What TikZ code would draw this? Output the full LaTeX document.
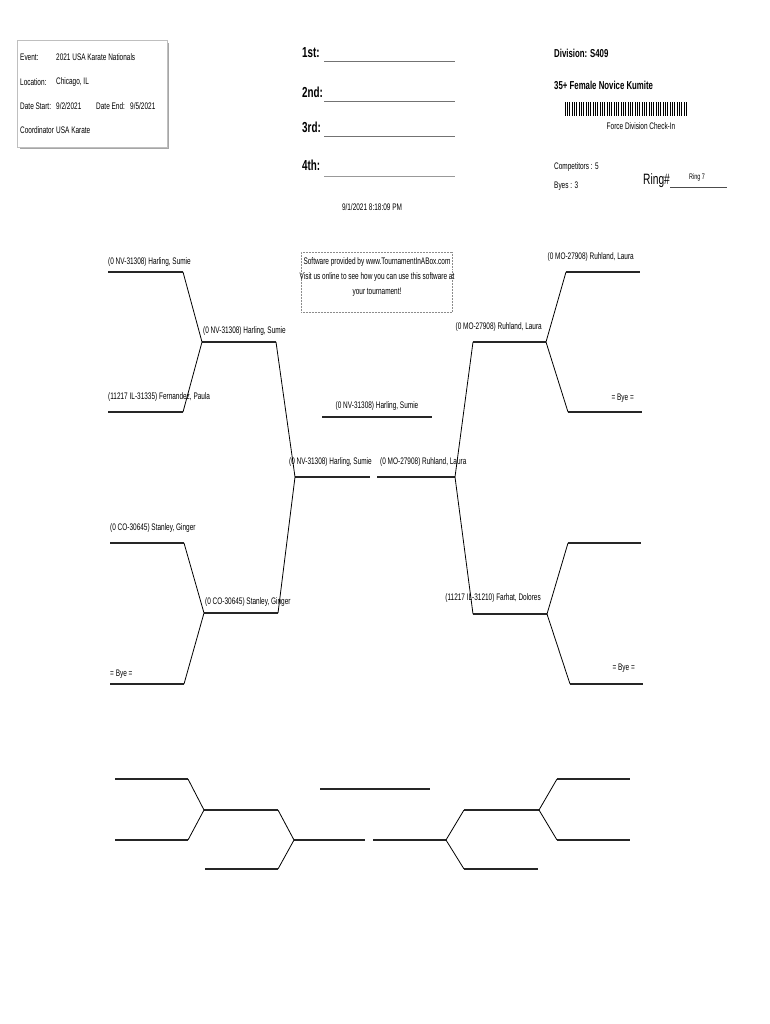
\documentclass[tikz,border=0pt]{standalone}
\usepackage{fontspec}
\setmainfont[FakeStretch=0.68]{Liberation Sans}
\begin{document}
\begin{tikzpicture}[x=1pt,y=-1pt,
  lbl/.style={font=\fontsize{9.5}{10}\selectfont, inner sep=0pt, anchor=west},
  lble/.style={lbl, anchor=east},
  big/.style={font=\fontsize{14.5}{16}\selectfont\bfseries, inner sep=0pt, anchor=west},
  head/.style={font=\fontsize{11.5}{13}\selectfont\bfseries, inner sep=0pt, anchor=west},
  hl/.style={line width=1.8pt, draw=black!85},
  dl/.style={line width=0.8pt, draw=black},
  blank/.style={line width=0.9pt, draw=black!55}]
\useasboundingbox (0,0) rectangle (770,1024);

% ---------- info box ----------
\fill[black!35] (20,43) rectangle (169,149.5);
\draw[fill=white, draw=black!25, line width=0.5pt] (17,40) rectangle (167,147);
\node[lbl] (ev) at (20,57) {Event:};
\node[lbl] (evv) at (56,57) {2021 USA Karate Nationals};
\node[lbl] (lo) at (20,82) {Location:};
\node[lbl] (lov) at (56,82) {Chicago, IL};
\node[lbl] (ds) at (20,106) {Date Start:};
\node[lbl] (dsv) at (56,106) {9/2/2021};
\node[lbl] (de) at (96,106) {Date End:};
\node[lbl] (dev) at (130,106) {9/5/2021};
\node[lbl] (co) at (20,130) {Coordinator};
\node[lbl] (cov) at (56,130) {USA Karate};

% ---------- places ----------
\node[big] (p1) at (302,53) {1st:};
\node[big] (p2) at (302,92) {2nd:};
\node[big] (p3) at (302,127) {3rd:};
\node[big] (p4) at (302,165) {4th:};
\coordinate (p1a) at (324,61); \coordinate (p1b) at (455,61);
\coordinate (p2a) at (324,101); \coordinate (p2b) at (455,101);
\coordinate (p3a) at (324,136); \coordinate (p3b) at (455,136);
\coordinate (p4a) at (324,176); \coordinate (p4b) at (455,176);
\draw[blank] (p1a) -- (p1b);
\draw[blank] (p2a) -- (p2b);
\draw[blank] (p3a) -- (p3b);
\draw[blank, draw=black!40, line width=0.7pt] (p4a) -- (p4b);
\node[lbl, anchor=center] (ts) at (372,207) {9/1/2021 8:18:09 PM};

% ---------- division ----------
\node[head] (div) at (554,53) {Division: S409};
\node[head] (cat) at (554,85) {35+ Female Novice Kumite};
\foreach \i in {0,...,121}{
  \pgfmathtruncatemacro\b{mod(\i*\i+3*\i,7)<4 ? 1 : 0}
  \ifnum\b=1 \fill[black] (565+\i,102) rectangle ++(1,14);\fi
}
\node[lbl, anchor=center] (fd) at (641,126) {Force Division Check-In};
\node[lbl] (cp) at (554,167) {Competitors : 5};
\node[lbl] (by) at (554,186) {Byes : 3};
\node[font=\fontsize{15}{17}\selectfont, inner sep=0pt, anchor=west] (ring) at (643,181) {Ring\#};
\coordinate (rl) at (727,187);
\draw[line width=0.6pt, black!70] (ring.south east |- rl) -- (rl);
\node[font=\fontsize{8}{9}\selectfont, inner sep=0pt] (r7) at (697,177) {Ring 7};

% ---------- software box ----------
\node[draw=black!45, densely dotted, line width=0.5pt, minimum width=151pt, minimum height=60pt, inner sep=0pt] (sw) at (376.5,282) {};
\node[lbl, anchor=center] (sw1) at (377,262) {Software provided by www.TournamentInABox.com};
\node[lbl, anchor=center] (sw2) at (377,277) {Visit us online to see how you can use this software at};
\node[lbl, anchor=center] (sw3) at (377,292) {your tournament!};

% ---------- main bracket: coordinates ----------
% upper left
\coordinate (a1) at (108,272); \coordinate (a2) at (183,272);
\coordinate (b1) at (108,412); \coordinate (b2) at (183,412);
\coordinate (c1) at (202,342); \coordinate (c2) at (276,342);
% lower left
\coordinate (d1) at (110,543); \coordinate (d2) at (184,543);
\coordinate (e1) at (110,684); \coordinate (e2) at (184,684);
\coordinate (f1) at (204,613); \coordinate (f2) at (278,613);
% semis
\coordinate (s1) at (295,477); \coordinate (s2) at (370,477);
\coordinate (t1) at (377,477); \coordinate (t2) at (455,477);
% winner
\coordinate (w1) at (322,417); \coordinate (w2) at (432,417);
% upper right
\coordinate (g1) at (566,272); \coordinate (g2) at (640,272);
\coordinate (h1) at (568,412); \coordinate (h2) at (642,412);
\coordinate (k1) at (473,342); \coordinate (k2) at (546,342);
% lower right
\coordinate (m1) at (568,543); \coordinate (m2) at (641,543);
\coordinate (n1) at (570,684); \coordinate (n2) at (643,684);
\coordinate (q1) at (473,614); \coordinate (q2) at (547,614);

\foreach \p in {a,b,c,d,e,f,s,t,w,g,h,k,m,n,q}{\draw[hl] (\p1) -- (\p2);}
\draw[dl] (a2) -- (c1) -- (b2);
\draw[dl] (d2) -- (f1) -- (e2);
\draw[dl] (c2) -- (s1) -- (f2);
\draw[dl] (k1) -- (t2) -- (q1);
\draw[dl] (g1) -- (k2) -- (h1);
\draw[dl] (m1) -- (q2) -- (n1);

% labels
\node[lbl] (la) at (108,262) {(0 NV-31308) Harling, Sumie};
\node[lbl] (lb) at (108,397) {(11217 IL-31335) Fernandez, Paula};
\node[lbl] (lc) at (203,331) {(0 NV-31308) Harling, Sumie};
\node[lbl] (ld) at (110,528) {(0 CO-30645) Stanley, Ginger};
\node[lbl] (le) at (110,674) {= Bye =};
\node[lbl] (lf) at (205,602) {(0 CO-30645) Stanley, Ginger};
\node[lbl] (ls) at (289,462) {(0 NV-31308) Harling, Sumie};
\node[lbl] (lt) at (380,462) {(0 MO-27908) Ruhland, Laura};
\node[lbl, anchor=center] (lw) at (377,406) {(0 NV-31308) Harling, Sumie};
\node[lble] (lg) at (634,257) {(0 MO-27908) Ruhland, Laura};
\node[lble] (lh) at (634,398) {= Bye =};
\node[lble] (lk) at (542,327) {(0 MO-27908) Ruhland, Laura};
\node[lble] (lq) at (541,598) {(11217 IL-31210) Farhat, Dolores};
\node[lble] (ln) at (635,668) {= Bye =};

% ---------- consolation bracket ----------
\coordinate (A1) at (115,779); \coordinate (A2) at (188,779);
\coordinate (B1) at (115,840); \coordinate (B2) at (188,840);
\coordinate (C1) at (204,810); \coordinate (C2) at (278,810);
\coordinate (D1) at (205,869); \coordinate (D2) at (278,869);
\coordinate (E1) at (294,840); \coordinate (E2) at (365,840);
\coordinate (F1) at (320,789); \coordinate (F2) at (430,789);
\coordinate (G1) at (373,840); \coordinate (G2) at (446,840);
\coordinate (H1) at (464,810); \coordinate (H2) at (539,810);
\coordinate (J1) at (464,869); \coordinate (J2) at (538,869);
\coordinate (K1) at (557,779); \coordinate (K2) at (630,779);
\coordinate (L1) at (557,840); \coordinate (L2) at (630,840);
\foreach \p in {A,B,C,D,E,F,G,H,J,K,L}{\draw[hl, line width=1.4pt] (\p1) -- (\p2);}
\draw[dl] (A2) -- (C1) -- (B2);
\draw[dl] (C2) -- (E1) -- (D2);
\draw[dl] (H1) -- (G2) -- (J1);
\draw[dl] (K1) -- (H2) -- (L1);
\end{tikzpicture}
\end{document}
